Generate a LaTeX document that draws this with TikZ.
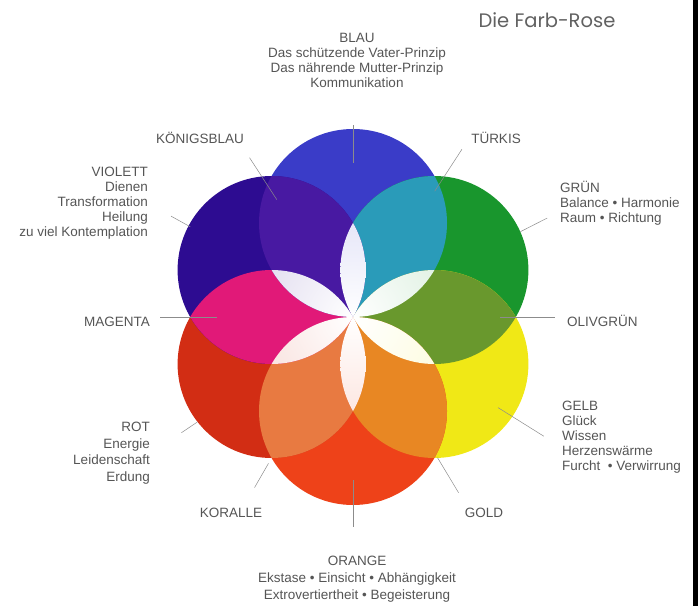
\documentclass[tikz,border=0pt]{standalone}
\usepackage{fontspec}
\setmainfont{Liberation Sans}
\newfontfamily\titlefont{Poppins}
\usepackage{xcolor}
\usepackage{tikz}

\definecolor{blau}{RGB}{58,60,200}
\definecolor{tuerkis}{RGB}{42,155,185}
\definecolor{gruen}{RGB}{25,150,45}
\definecolor{oliv}{RGB}{105,152,45}
\definecolor{gelb}{RGB}{240,232,22}
\definecolor{gold}{RGB}{232,135,35}
\definecolor{orange}{RGB}{238,66,25}
\definecolor{koralle}{RGB}{232,122,65}
\definecolor{rot}{RGB}{210,45,20}
\definecolor{magenta}{RGB}{225,25,120}
\definecolor{violett}{RGB}{45,12,145}
\definecolor{koenigsblau}{RGB}{72,25,162}
\definecolor{schrift}{RGB}{85,85,85}

\begin{document}
\begin{tikzpicture}[x=1pt,y=1pt,
    txt/.style={text=schrift,inner sep=0pt,font=\fontsize{13.5}{15}\selectfont},
    tick/.style={draw=black!45,line width=0.5pt}]
  \useasboundingbox (0,0) rectangle (698,606);
  \fill[black] (693,0) rectangle (698,606);
  \coordinate (M) at (353,289);
  \foreach \a/\n in {90/blau,30/gruen,-30/gelb,-90/orange,-150/rot,150/violett}
    \coordinate (\n-c) at ([shift={(\a:94)}]M);
  % Kreise, Mischfarben, Blueten
  \foreach \n in {blau,gruen,gelb,orange,rot,violett}
    \fill[\n] (\n-c) circle (94);
  \foreach \p/\q/\m in {blau/gruen/tuerkis,gruen/gelb/oliv,gelb/orange/gold,
      orange/rot/koralle,rot/violett/magenta,violett/blau/koenigsblau}{
    \begin{scope}
      \clip (\p-c) circle (94);
      \fill[\m] (\q-c) circle (94);
    \end{scope}}
  \foreach \p/\n/\q in {violett/blau/gruen,blau/gruen/gelb,gruen/gelb/orange,
      gelb/orange/rot,orange/rot/violett,rot/violett/blau}{
    \begin{scope}
      \clip (\p-c) circle (94);
      \clip (\q-c) circle (94);
      \shade[inner color=white,outer color=\n!25] (M) circle (188);
    \end{scope}}
  % Striche
  \foreach \a/\ri/\ro [count=\k] in {90/154/192,123/140/190,57/150/200,151/186/208,
      27/188/218,0/147/202,180/136/193,-32/171/225,-59/164/205,-90/163/210,
      -120/169/197,-146/188/207}{
    \coordinate (t\k i) at ([shift={(\a:\ri)}]M);
    \coordinate (t\k o) at ([shift={(\a:\ro)}]M);
    \draw[tick] (t\k i) -- (t\k o);}
  % Texte
  \node[txt,text=black!62,font=\titlefont\fontsize{19.5}{21}\selectfont] (titel) at (547,586) {Die Farb-Rose};
  \node[txt,align=center] (blau) at (357,546)
    {BLAU\\Das schützende Vater-Prinzip\\Das nährende Mutter-Prinzip\\Kommunikation};
  \node[txt] (koenigsblau) at (200,468) {KÖNIGSBLAU};
  \node[txt] (tuerkis) at (496,468) {TÜRKIS};
  \node[txt,align=right,anchor=east] (violett) at (148,403)
    {VIOLETT\\Dienen\\Transformation\\Heilung\\zu viel Kontemplation};
  \node[txt,align=left,anchor=west] (gruen) at (560,403)
    {GRÜN\\Balance • Harmonie\\Raum • Richtung};
  \node[txt,anchor=east] (magenta) at (150,284) {MAGENTA};
  \node[txt,anchor=west] (oliv) at (567,285) {OLIVGRÜN};
  \node[txt,align=right,anchor=east,font=\fontsize{13.5}{16.5}\selectfont] (rot) at (150,153)
    {ROT\\Energie\\Leidenschaft\\Erdung};
  \node[txt,align=left,anchor=west] (gelb) at (562,169)
    {GELB\\Glück\\Wissen\\Herzenswärme\\Furcht \ • Verwirrung};
  \node[txt] (koralle) at (231,93) {KORALLE};
  \node[txt] (gold) at (484,93) {GOLD};
  \node[txt,align=center,font=\fontsize{13.5}{17}\selectfont] (orange) at (357,26.5)
    {ORANGE\\Ekstase • Einsicht • Abhängigkeit\\Extrovertiertheit • Begeisterung};
\end{tikzpicture}
\end{document}
